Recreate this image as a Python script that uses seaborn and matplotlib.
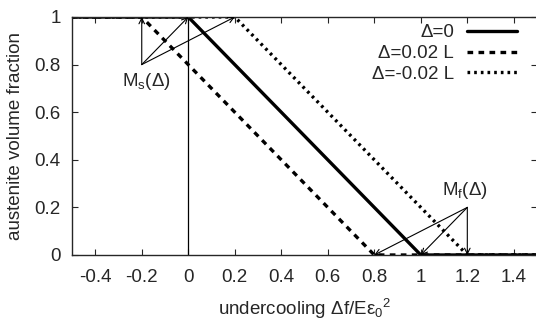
import matplotlib
matplotlib.use("Agg")
import matplotlib.pyplot as plt
import seaborn as sns
import pandas as pd

# data
x_pts = [-0.5, 0.0, 1.0, 1.5]
y_d0 = [1, 1, 0, 0]
x_pts_pos = [-0.5, -0.2, 0.8, 1.5]
y_pos = [1, 1, 0, 0]
x_pts_neg = [-0.5, 0.2, 1.2, 1.5]
y_neg = [1, 1, 0, 0]
labels = ["Δ=0", "Δ=0.02 L", "Δ=-0.02 L"]
ms_points = [-0.2, 0.0, 0.2]
mf_points = [0.8, 1.0, 1.2]
xticks = [-0.4, -0.2, 0, 0.2, 0.4, 0.6, 0.8, 1, 1.2, 1.4]
yticks = [0, 0.2, 0.4, 0.6, 0.8, 1]

sns.set_style("ticks")
plt.rcParams['font.family'] = ['Liberation Sans', 'DejaVu Sans']
plt.rcParams['mathtext.fontset'] = 'custom'
plt.rcParams['mathtext.rm'] = 'Liberation Sans'
plt.rcParams['mathtext.it'] = 'Liberation Sans'

FS = 13.5
fig = plt.figure(figsize=(5.36, 3.25), dpi=100)
ax = fig.add_axes([0.1343, 0.2154, 0.8677, 0.7323])

df = pd.concat([
    pd.DataFrame({"x": x_pts, "y": y_d0, "s": labels[0]}),
    pd.DataFrame({"x": x_pts_pos, "y": y_pos, "s": labels[1]}),
    pd.DataFrame({"x": x_pts_neg, "y": y_neg, "s": labels[2]}),
])

styles = {labels[0]: "-", labels[1]: (0, (1.7, 1.6)), labels[2]: (0, (0.8, 1.2))}
for lab in labels:
    sub = df[df.s == lab]
    sns.lineplot(data=sub, x="x", y="y", ax=ax, color="black", lw=2.4,
                 linestyle=styles[lab], label=lab,
                 sort=False, estimator=None)

ax.plot([0, 0], [0, 1], color="black", lw=0.9)

arrowprops = dict(arrowstyle="->", color="black", lw=0.8, shrinkA=0, shrinkB=0)
for xp in ms_points:
    ax.annotate("", xy=(xp, 1), xytext=(-0.2, 0.8), arrowprops=arrowprops)
for xp in mf_points:
    ax.annotate("", xy=(xp, 0), xytext=(1.2, 0.2), arrowprops=arrowprops)
ax.text(-0.18, 0.73, r"M$_\mathrm{s}$(Δ)", ha="center", va="center", fontsize=FS)
ax.text(1.19, 0.27, r"M$_\mathrm{f}$(Δ)", ha="center", va="center", fontsize=FS)

ax.set_xlim(-0.5, 1.5)
ax.set_ylim(0, 1)
ax.set_xticks(xticks)
ax.set_xticklabels(["-0.4", "-0.2", "0", "0.2", "0.4", "0.6", "0.8", "1", "1.2", "1.4"])
ax.set_yticks(yticks)
ax.set_yticklabels(["0", "0.2", "0.4", "0.6", "0.8", "1"])
ax.tick_params(direction="in", top=True, right=True, labelsize=FS, length=4, width=0.8)
ax.tick_params(axis="x", pad=10)
ax.tick_params(axis="y", pad=8)
for sp in ax.spines.values():
    sp.set_linewidth(1.0)
    sp.set_visible(True)

ax.set_xlabel(r"undercooling Δf/Eε$_\mathrm{0}$$^\mathrm{2}$", fontsize=FS, labelpad=8)
ax.set_ylabel("austenite volume fraction", fontsize=FS, labelpad=8)

leg = ax.legend(loc="upper right", frameon=False, markerfirst=False, fontsize=FS,
                handlelength=2.67, handletextpad=0.7, borderaxespad=0.0, labelspacing=0.2,
                borderpad=0.0, bbox_to_anchor=(0.957, 0.97))
for t in leg.get_texts():
    t.set_ha("right")

fig.savefig("out.png", dpi=100)
